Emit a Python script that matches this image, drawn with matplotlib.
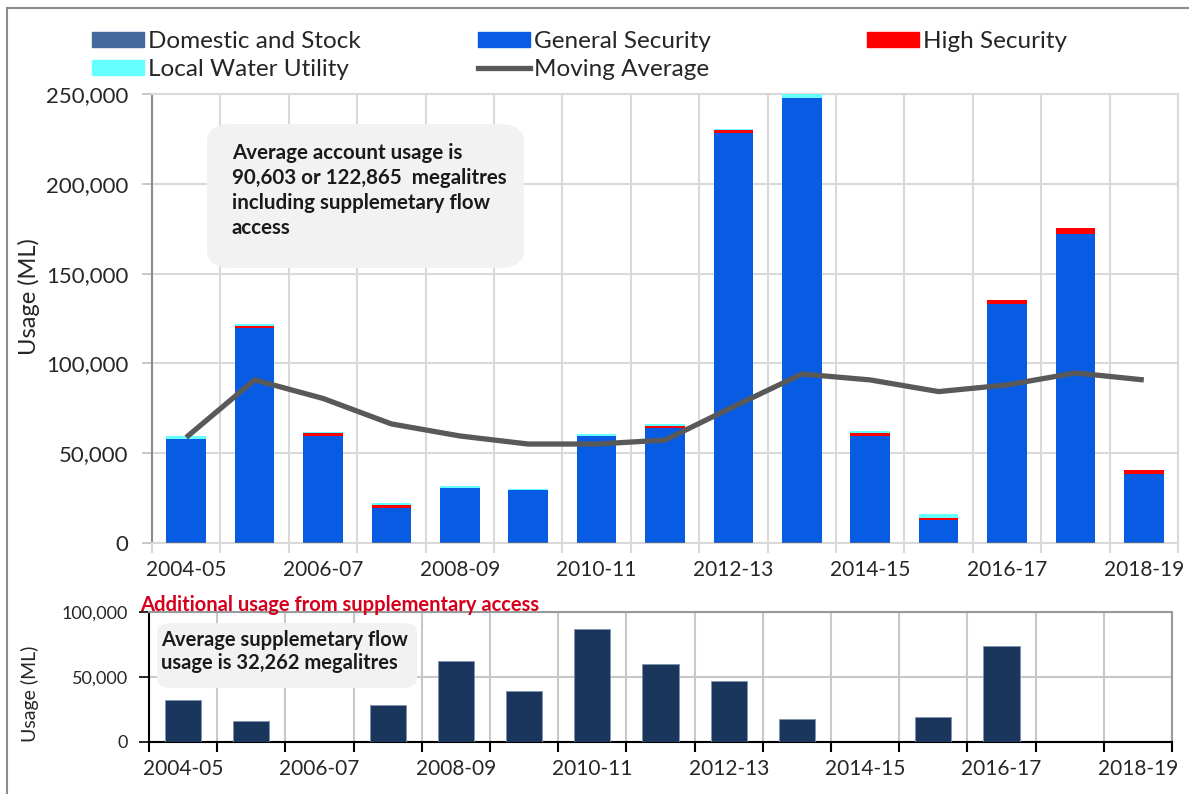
import numpy as np
import matplotlib.pyplot as plt
from matplotlib.patches import Patch, FancyBboxPatch
from matplotlib.lines import Line2D

plt.rcParams['font.family'] = ['Lato', 'DejaVu Sans']

years = ['2004-05', '2005-06', '2006-07', '2007-08', '2008-09', '2009-10', '2010-11',
         '2011-12', '2012-13', '2013-14', '2014-15', '2015-16', '2016-17', '2017-18', '2018-19']
domestic = [300, 300, 700, 700, 300, 300, 300, 300, 600, 700, 700, 300, 300, 700, 300]
general = [57700, 119200, 58800, 18800, 30200, 29000, 59200, 63500, 227900, 246800,
           58800, 12700, 132700, 171300, 38200]
high = [0, 1500, 1500, 1500, 0, 0, 0, 1500, 1200, 500, 2000, 1000, 2500, 3500, 2300]
local = [1500, 1000, 1000, 1000, 1000, 1000, 1200, 800, 1000, 2000, 1000, 2000, 0, 0, 0]
moving_avg = [58800, 90800, 80500, 66300, 59600, 55100, 55100, 57300, 75900, 94100,
              90800, 84300, 88000, 94700, 90800]
supplementary = [32500, 15800, 0, 28200, 62300, 38900, 86900, 60200, 46600, 17400,
                 0, 19200, 74100, 0, 0]

c_dom = '#44699b'
c_gen = '#085ce3'
c_high = '#ff0000'
c_local = '#66ffff'
c_avg = '#595959'
c_supp = '#1b365d'

fig = plt.figure(figsize=(11.89, 7.94), dpi=100)
x = np.arange(len(years))

# top chart
ax = fig.add_axes([152/1189, 1-543/794, 1026/1189, 449/794])
b1 = np.array(domestic)
b2 = b1 + np.array(general)
b3 = b2 + np.array(high)
ax.bar(x, domestic, 0.58, color=c_dom, zorder=3)
ax.bar(x, general, 0.58, bottom=b1, color=c_gen, zorder=3)
ax.bar(x, high, 0.58, bottom=b2, color=c_high, zorder=3)
ax.bar(x, local, 0.58, bottom=b3, color=c_local, zorder=3)
ax.plot(x, moving_avg, color=c_avg, lw=3.8, zorder=4, solid_capstyle='butt')

ax.set_xlim(-0.5, len(years) - 0.5)
ax.set_ylim(0, 250000)
ax.set_yticks(np.arange(0, 250001, 50000))
ax.set_yticklabels([f'{v:,}' for v in range(0, 250001, 50000)], fontsize=16, color='#262626')
ax.set_xticks(np.arange(-0.5, len(years), 1))
ax.set_xticklabels([])
ax.set_xticks(x[::2], minor=True)
ax.set_xticklabels(years[::2], minor=True, fontsize=15, color='#262626')
ax.tick_params(axis='x', which='major', length=7, color='#d9d9d9', width=1.5)
ax.tick_params(axis='x', which='minor', length=0, pad=12)
ax.tick_params(axis='y', length=7, color='#bfbfbf', width=1.2, pad=10)
ax.grid(True, which='major', color='#d9d9d9', lw=1.5, zorder=0)
ax.set_axisbelow(True)
for s in ['top', 'right', 'bottom']:
    ax.spines[s].set_color('#d9d9d9')
    ax.spines[s].set_linewidth(1.5)
ax.spines['left'].set_color('#8c8c8c')
ax.spines['left'].set_linewidth(1.5)

fig.text(29/1189, 1-297/794, 'Usage (ML)', rotation=90, ha='center', va='center',
         fontsize=17, color='#262626')

box = FancyBboxPatch((207/1189, 1-268/794), 317/1189, 144/794,
                     boxstyle='round,pad=0,rounding_size=0.022', transform=fig.transFigure,
                     facecolor='#f2f2f2', edgecolor='none', zorder=5)
fig.add_artist(box)
fig.text(232/1189, 1-143/794,
         'Average account usage is\n90,603 or 122,865  megalitres\nincluding supplemetary flow\naccess',
         ha='left', va='top', fontsize=14.8, fontweight='bold', linespacing=1.32,
         color='#1a1a1a', zorder=6)

# legend, one column at a time
lh = [
    ([Patch(color=c_dom), Patch(color=c_local)], ['Domestic and Stock', 'Local Water Utility'], 92),
    ([Patch(color=c_gen), Line2D([], [], color=c_avg, lw=3.8)], ['General Security', 'Moving Average'], 478),
    ([Patch(color=c_high)], ['High Security'], 867),
]
for handles, labels, xpos in lh:
    fig.legend(handles, labels, loc='upper left', bbox_to_anchor=(xpos/1189, 1-31/794),
               frameon=False, fontsize=17.5, handlelength=2.15, handleheight=0.58,
               handletextpad=0.17, labelspacing=0.3, borderpad=0, borderaxespad=0,
               labelcolor='#262626')

# bottom chart
ax2 = fig.add_axes([149/1189, 1-742/794, 1023/1189, 130/794])
ax2.bar(x, supplementary, 0.53, color=c_supp, edgecolor='#7f93ad', lw=0.6, zorder=3)
ax2.set_xlim(-0.5, len(years) - 0.5)
ax2.set_ylim(0, 100000)
ax2.set_yticks([0, 50000, 100000])
ax2.set_yticklabels(['0', '50,000', '100,000'], fontsize=13, color='#262626')
ax2.set_xticks(np.arange(-0.5, len(years), 1))
ax2.set_xticklabels([])
ax2.set_xticks(x[::2], minor=True)
ax2.set_xticklabels(years[::2], minor=True, fontsize=15, color='#262626')
ax2.tick_params(axis='x', which='major', length=7, color='black', width=1.5)
ax2.tick_params(axis='x', which='minor', length=0, pad=12)
ax2.tick_params(axis='y', length=7, color='black', width=1.2, pad=8)
ax2.grid(True, which='major', color='#c8c8c8', lw=1.5, zorder=0)
ax2.set_axisbelow(True)
for s in ['top', 'right']:
    ax2.spines[s].set_color('#9a9a9a')
    ax2.spines[s].set_linewidth(1.5)
for s in ['left', 'bottom']:
    ax2.spines[s].set_color('black')
    ax2.spines[s].set_linewidth(1.5)

fig.text(30/1189, 1-694/794, 'Usage (ML)', rotation=90, ha='center', va='center',
         fontsize=14, color='#262626')
fig.text(140/1189, 1-605/794, 'Additional usage from supplementary access', ha='left',
         va='center', fontsize=14.5, fontweight='bold', color='#d6001c')

box2 = FancyBboxPatch((157/1189, 1-688/794), 260/1189, 65/794,
                      boxstyle='round,pad=0,rounding_size=0.012', transform=fig.transFigure,
                      facecolor='#f2f2f2', edgecolor='none', zorder=5)
fig.add_artist(box2)
fig.text(161/1189, 1-630/794, 'Average supplemetary flow\nusage is 32,262 megalitres',
         ha='left', va='top', fontsize=14.5, fontweight='bold', linespacing=1.2,
         color='#1a1a1a', zorder=6)

# outer frame
fig.add_artist(Line2D([7/1189, 7/1189], [0, 1-8/794], transform=fig.transFigure,
                      color='#8c8c8c', lw=1.5))
fig.add_artist(Line2D([7/1189, 1], [1-8/794, 1-8/794], transform=fig.transFigure,
                      color='#8c8c8c', lw=1.5))

fig.savefig('out.png', dpi=100)
